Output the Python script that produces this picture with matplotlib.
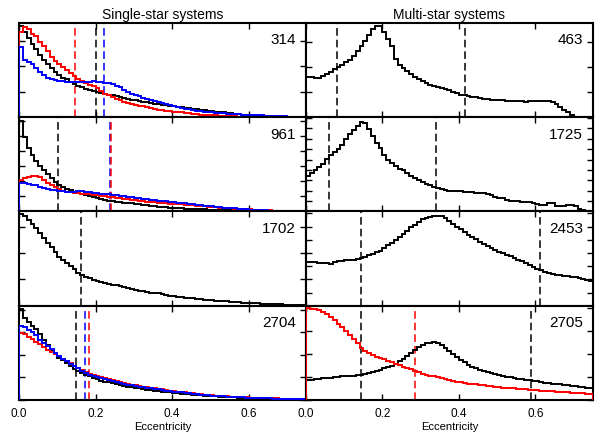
#!/usr/bin/env python3
"""Eccentricity distributions for single- and multi-star systems (4x2 grid)."""

import numpy as np
import matplotlib

matplotlib.use("Agg")
import matplotlib.pyplot as plt
from matplotlib.ticker import MultipleLocator

# histogram bins: 0.01 wide, 0 .. 0.75
BIN_WIDTH = 0.01
N_BINS = 75

# heights are in percent of each panel's height (arbitrary normalisation)
# ---- Single-star systems ----
s314_black = [97, 90, 84, 78, 72, 66, 61, 56, 52, 48,
              45, 42, 40, 37, 35, 33, 31.5, 30, 29, 28,
              27, 26, 25, 24, 23, 22, 21, 20, 19, 18.5,
              18, 17, 16.5, 16, 15, 14.5, 14, 13, 12.5, 12,
              11.5, 11, 10.5, 10, 9.5, 9, 8.5, 8, 7.5, 7,
              6.5, 6, 5.5, 5, 4.5, 4, 3.5, 3, 2.5, 2,
              1.8, 1.6, 1.4, 1.2, 1.0, 0.9, 0.8, 0.7, 0.6, 0.5,
              0.4, 0.3, 0.2, 0.2, 0.1]
s314_red = [90, 96, 93, 88, 86, 80, 75, 70, 64, 60,
            56, 53, 50, 47, 44, 40, 38, 36, 34, 33,
            31, 28, 25, 23, 21, 19, 18, 16, 15, 14,
            13, 12, 11.5, 11, 10, 9, 8, 7.5, 7, 6.5,
            6, 5.5, 5, 4.5, 4, 3.5, 3, 2.8, 2.5, 2.2,
            2, 1.8, 1.5, 1.3, 1.1, 1, 0.8, 0.6, 0.5, 0.4,
            0.3, 0.3, 0.2, 0.2, 0.2, 0.1, 0.1, 0.1, 0.1, 0.1,
            0, 0, 0, 0, 0]
s314_blue = [74, 61, 59, 56, 52, 48, 45, 42, 40, 39,
             38.5, 38, 37.5, 37, 37, 37, 37, 37, 37.5, 38,
             37.5, 37, 36.5, 36, 35, 33.5, 31.5, 29, 27, 25,
             23.5, 22, 20.5, 19.5, 18.5, 17.5, 16.5, 15, 14, 13,
             12, 11, 10, 9, 8.5, 8, 7, 6.5, 6, 5.5,
             5, 4.7, 4.4, 4.1, 3.8, 3.5, 3.2, 3, 2.8, 2.6,
             2.4, 2.2, 2, 1.8, 1.6, 1.4, 1.2, 1, 0.9, 0.8,
             0.7, 0.6, 0.5, 0.4, 0.3]

s961_black = [96, 79, 67, 60, 54, 48, 44, 40, 35, 31,
              28, 26, 24, 22.5, 21, 19.5, 18, 17, 16, 15,
              14, 13, 12.5, 11.5, 11, 10.5, 10, 9.5, 9, 8.5,
              8, 7.5, 7, 6.5, 6, 5.5, 5, 4.7, 4.4, 4,
              3.7, 3.5, 3.3, 3.1, 2.9, 2.7, 2.5, 2.3, 2.1, 2,
              1.9, 1.8, 1.7, 1.6, 1.5, 1.4, 1.3, 1.2, 1.1, 1,
              0.9, 0.8, 0.7, 0.6, 0.5, 0.5, 0.4, 0.4, 0.3, 0.3,
              0.2, 0.2, 0.1, 0.1, 0.1]
s961_red = [33, 35.5, 37, 38, 38, 37, 33, 30, 28, 26,
            23.5, 22, 21, 20.5, 20, 19.5, 19, 18.5, 18, 17.5,
            17, 16.5, 16, 15.5, 15, 14.5, 14, 13.5, 13, 12.5,
            12, 11.5, 11, 10.5, 10, 9.7, 9.4, 9, 8.7, 8.4,
            8, 7.7, 7.4, 7, 6.7, 6.4, 6, 5.7, 5.4, 5,
            4.7, 4.4, 4.1, 3.8, 3.5, 3.2, 3, 2.8, 2.6, 2.4,
            2.2, 2, 1.8, 1.6, 1.4, 1.2, 1, 0.8, 0.6, 0.5,
            0.4, 0.3, 0.2, 0.1, 0.1]
s961_blue = [30, 30, 29, 28.5, 28, 26, 25, 24, 23, 22.5,
             22, 21.5, 21, 21, 21, 22, 22, 21, 20.5, 20,
             19.5, 19, 18.5, 18, 17.5, 17, 16.5, 16, 15.5, 15,
             14.5, 14, 13.5, 13, 12.5, 12, 11.5, 11, 10.7, 10.3,
             10, 9.5, 9, 8.5, 8, 7.5, 7, 6.6, 6.2, 5.8,
             5.4, 5, 4.6, 4.2, 3.8, 3.5, 3.2, 2.9, 2.6, 2.3,
             2, 1.8, 1.6, 1.4, 1.2, 1, 0.8, 0.7, 0.6, 0.5,
             0.4, 0.3, 0.2, 0.2, 0.1]

s1702_black = [97, 95, 91, 87, 82, 77, 72, 67, 62, 57,
               52, 48, 45, 42, 39, 35, 32.5, 30.5, 29, 27.5,
               26.5, 25.5, 24.5, 23.5, 22.5, 21.5, 20.5, 19.5, 18.5, 17.5,
               16.7, 16, 15.3, 14.7, 14, 13.5, 13, 12, 11.5, 10.5,
               10, 9.5, 9, 8.7, 8.3, 8, 7.6, 7, 6.5, 6,
               5.8, 5.5, 5.2, 4.9, 4.6, 4.3, 4, 3.7, 3.4, 3,
               2.8, 2.6, 2.4, 2.2, 2, 1.8, 1.6, 1.5, 1.4, 1.3,
               1.2, 1.1, 1, 1, 0.9]

s2704_black = [97, 86.5, 83, 79, 75, 70, 64, 58, 53, 49,
               45, 42, 39, 36.5, 33, 31, 29, 27, 25, 23.5,
               22, 20.5, 19.5, 19, 18, 17, 16, 15, 14, 13.5,
               13, 12.3, 11.7, 11, 10.5, 10, 9.5, 9, 8.5, 8,
               7.6, 7.2, 6.8, 6.4, 6, 5.7, 5.4, 5.1, 4.8, 4.5,
               4.2, 3.9, 3.6, 3.4, 3.2, 3, 2.8, 2.6, 2.4, 2.2,
               2, 1.9, 1.8, 1.7, 1.6, 1.5, 1.4, 1.3, 1.2, 1.1,
               1, 0.9, 0.8, 0.7, 0.6]
s2704_red = [71, 70, 67, 65, 62, 59, 56, 53, 51, 49,
             46.5, 44, 41.5, 39, 36.5, 34, 32, 30, 28, 26.5,
             25, 24, 23, 22, 21, 20, 19, 18, 17.2, 16.4,
             15.7, 15, 14.3, 13.6, 13, 12.4, 11.8, 11.2, 10.6, 10,
             9.5, 9, 8.5, 8, 7.5, 7, 6.6, 6.2, 5.8, 5.4,
             5, 4.7, 4.4, 4.1, 3.8, 3.6, 3.4, 3.2, 3, 2.8,
             2.6, 2.4, 2.2, 2.1, 2, 1.9, 1.8, 1.7, 1.6, 1.5,
             1.4, 1.3, 1.2, 1.1, 1]
s2704_blue = [78, 77, 74, 72, 68.5, 64, 60, 57, 54, 50,
              47, 44, 41, 38.5, 36, 33.5, 31, 29, 27, 25.5,
              24, 23, 22, 21, 20, 19, 18, 17, 16.3, 15.6,
              15, 14.3, 13.7, 13, 12.4, 11.8, 11.2, 10.6, 10, 9.5,
              9, 8.5, 8, 7.5, 7, 6.6, 6.2, 5.8, 5.4, 5,
              4.7, 4.4, 4.1, 3.8, 3.6, 3.4, 3.2, 3, 2.8, 2.6,
              2.4, 2.2, 2, 1.9, 1.8, 1.7, 1.6, 1.5, 1.4, 1.3,
              1.2, 1.1, 1, 0.9, 0.8]

# ---- Multi-star systems ----
m463_black = [43, 42.5, 42, 42, 44, 46, 48, 51, 53, 55,
              58, 61, 65, 70, 75, 81, 87, 94, 97, 97,
              90, 83, 75, 62, 55, 52, 49, 46, 43, 40,
              38, 36, 34, 33, 32, 31, 30, 28.5, 27, 25.5,
              24, 23, 22, 21.5, 21, 20, 19.5, 19, 18.5, 18.5,
              18, 18, 17.5, 17.5, 17, 17, 17, 16.5, 17, 17,
              17.5, 17.5, 17.5, 17, 16, 14, 11, 8, 5, 2,
              0.5, 0, 0, 0, 0]
m1725_black = [37.5, 41, 44, 47, 50, 56, 60, 63, 66, 71,
               77, 82, 86, 91, 95, 94, 87, 80, 73, 67,
               60, 55, 51, 48, 45, 44, 41, 38, 35.5, 33,
               31, 29.5, 28, 26, 25, 24, 23, 22, 21.5, 21.5,
               21.5, 21, 21, 20.5, 20, 20, 19.5, 18.5, 17, 15.5,
               14.5, 14, 12.5, 11.5, 11, 11, 10.5, 10.5, 10, 9,
               7.5, 7, 7, 8.5, 9, 6, 5.5, 5.5, 6.5, 6.5,
               6, 2.5, 1.5, 1, 0.5]
m2453_black = [46, 46, 46, 45.5, 45, 45, 44.5, 46, 47, 47.5,
               48, 48.5, 49, 50, 51, 52, 53.5, 55, 57, 58.5,
               61, 64, 67, 70, 73, 76, 79, 83, 86, 89,
               91.5, 93, 94, 95, 95.5, 95, 93, 90, 87, 84,
               81, 78, 75.5, 73, 70.5, 68, 65.5, 63, 61, 59,
               57, 55.5, 54, 52.5, 51, 49, 47, 45, 43, 41,
               39, 37.5, 36, 35, 34, 33, 32.5, 32, 31.5, 31,
               30.5, 29.5, 28.5, 27, 26]
m2705_black = [21.5, 21.5, 22, 22.5, 23, 23, 23.5, 24, 24.5, 25,
               25.5, 26, 26, 26.5, 27, 28, 29, 30, 31, 32,
               33.5, 35, 36.5, 38.5, 41, 44, 47, 50, 53, 56,
               58, 60, 61, 61.5, 60.5, 58.5, 55, 52, 48.5, 45.5,
               42.5, 40, 37.5, 35.5, 33.5, 32, 30.5, 29.5, 28.5, 27.5,
               26.5, 25.5, 24.5, 24, 23, 22.5, 22, 21.5, 21, 20.5,
               20, 19, 18.5, 18, 17.5, 17, 16.5, 16, 15.5, 15,
               14.5, 14, 13.5, 13, 12.5]
m2705_red = [98, 97, 97, 95.5, 93.5, 91, 88, 84.5, 81, 77,
             73, 69, 65, 60, 55, 52, 49.5, 47.5, 46, 44.5,
             43, 41.5, 40, 38.5, 37, 35.5, 34, 32.5, 31, 29.5,
             28, 27, 26, 25, 24, 23, 22, 21, 20, 19.5,
             19, 18, 17.5, 17, 16.5, 16, 15.5, 15, 14.5, 14,
             13.5, 13.2, 13, 12.6, 12.3, 12, 11.6, 11.3, 11, 10.7,
             10.4, 10.1, 9.8, 9.5, 9.2, 9, 8.7, 8.4, 8.1, 7.8,
             7.5, 7.2, 7, 6.8, 6.5]

# panel labels (model numbers)
single_labels = ["314", "961", "1702", "2704"]
multi_labels = ["463", "1725", "2453", "2705"]

# median lines (dashed) per panel: (eccentricity, colour)
single_medians = [
    [(0.147, "red"), (0.202, "black"), (0.223, "blue")],
    [(0.103, "black"), (0.237, "blue"), (0.241, "red")],
    [(0.162, "black")],
    [(0.149, "black"), (0.171, "blue"), (0.182, "red")],
]
multi_medians = [
    [(0.082, "black"), (0.417, "black")],
    [(0.061, "black"), (0.341, "black")],
    [(0.143, "black"), (0.611, "black")],
    [(0.143, "black"), (0.589, "black"), (0.286, "red")],
]

single_hists = [
    [(s314_black, "black"), (s314_red, "red"), (s314_blue, "blue")],
    [(s961_black, "black"), (s961_red, "red"), (s961_blue, "blue")],
    [(s1702_black, "black")],
    [(s2704_black, "black"), (s2704_red, "red"), (s2704_blue, "blue")],
]
multi_hists = [
    [(m463_black, "black")],
    [(m1725_black, "black")],
    [(m2453_black, "black")],
    [(m2705_black, "black"), (m2705_red, "red")],
]

single_ystep = [27, 16, 28, 24]
multi_ystep = [26.5, 11, 14, 24.5]

COLORS = {"black": "#000000", "red": "#ff0000", "blue": "#0000ff"}


def draw_panel(ax, hists, medians, label, ystep, bottom):
    edges = np.linspace(0.0, N_BINS * BIN_WIDTH, N_BINS + 1)
    for values, col in hists:
        ax.stairs(values, edges, baseline=0, color=COLORS[col],
                  linewidth=1.4, zorder=3)
    for xm, col in medians:
        ax.axvline(xm, color=COLORS[col], linewidth=1.1,
                   linestyle=(0, (5, 2.6)), zorder=2)
    ax.text(0.965, 0.815, label, transform=ax.transAxes,
            ha="right", va="center", fontsize=11)
    ax.set_xlim(0, 0.75)
    ax.set_ylim(0, 100)
    ax.set_xticks([0.0, 0.2, 0.4, 0.6])
    ax.yaxis.set_major_locator(MultipleLocator(ystep))
    ax.tick_params(direction="in", top=True, right=True, length=4,
                   width=1, labelleft=False, labelbottom=bottom,
                   labelsize=8.5, pad=6)
    for sp in ax.spines.values():
        sp.set_linewidth(1.5)
    if bottom:
        ax.set_xticklabels(["0.0", "0.2", "0.4", "0.6"])
        ax.set_xlabel("Eccentricity", fontsize=8, labelpad=1)


plt.rcParams["font.family"] = ["Liberation Sans", "DejaVu Sans"]

fig, axes = plt.subplots(4, 2, figsize=(5.97, 4.32), dpi=100)
fig.subplots_adjust(left=0.032, right=0.993, top=0.947, bottom=0.074,
                    wspace=0, hspace=0)

for i in range(4):
    draw_panel(axes[i, 0], single_hists[i], single_medians[i],
               single_labels[i], single_ystep[i], i == 3)
    draw_panel(axes[i, 1], multi_hists[i], multi_medians[i],
               multi_labels[i], multi_ystep[i], i == 3)

axes[0, 0].set_title("Single-star systems", fontsize=10, pad=3)
axes[0, 1].set_title("Multi-star systems", fontsize=10, pad=3)

fig.savefig("out.png", dpi=100)
